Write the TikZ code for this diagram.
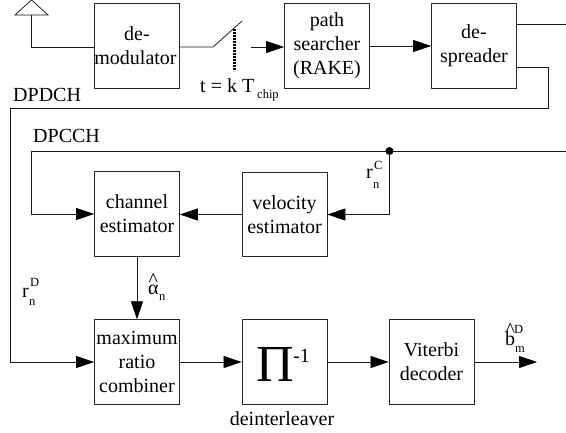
\documentclass[tikz,border=0pt]{standalone}
\usepackage{fontspec}
\setmainfont{Liberation Serif}
\usetikzlibrary{arrows.meta}
\newcommand\hatted[2]{\setbox0\hbox{#2}\rlap{\hbox to\wd0{\hss\raisebox{#1}{\symbol{94}}\hss}}\box0}
\tikzset{
  x=1pt,y=-1pt,
  block/.style={draw=black!85,line width=0.8pt,minimum width=85pt,minimum height=84.5pt,inner sep=0pt,align=center,font=\fontsize{20}{24}\selectfont,execute at begin node={\rule{0pt}{18pt}}},
  wire/.style={draw=black!90,line width=0.75pt},
  flow/.style={wire,-{Triangle[length=18pt,width=12pt,color=black]}},
  lab/.style={inner sep=0pt,anchor=base west,font=\fontsize{20}{24}\selectfont},
  sm/.style={inner sep=0pt,anchor=base west,font=\fontsize{12.5}{12.5}\selectfont},
}
\begin{document}
\begin{tikzpicture}
\useasboundingbox (0,0) rectangle (566,432);
\clip (0,0) rectangle (566,432);
\fill[white] (0,0) rectangle (566,432);
\node[block] (demod) at (137,46) {de-\\modulator\kern3pt};
\node[block] (search) at (327,46) {path\\searcher\\(RAKE)};
\node[block] (spread) at (474,46) {de-\\spreader};
\node[block] (chan) at (137,214) {channel\\estimator};
\node[block] (vel) at (284.5,214.5) {velocity\\estimator};
\node[block] (mrc) at (137,362) {maximum\\ratio\\combiner};
\node[block] (pi) at (284.5,362) {};
\node[block] (vit) at (431.5,362) {Viterbi\\decoder};
% antenna
\coordinate (antL) at (15,15);
\coordinate (antR) at (48,15);
\coordinate (antT) at (31.5,0);
\coordinate (antB) at (31.5,15);
\coordinate (antC) at (31.5,47);
\draw[wire] (antL) -- (antR) -- (antT) -- cycle;
\draw[wire] (antB) -- (antC) -- (demod.west |- antC);
% switch
\coordinate (swA) at (213,47);
\coordinate (swB) at (242,21);
\coordinate (swO) at (251,47);
\coordinate (dotT) at (234.5,29);
\coordinate (dotB) at (234.5,71);
\draw[wire] (demod.east |- swA) -- (swA) -- (swB);
\draw[line width=2.6pt,dash pattern=on 2pt off 1pt] (dotT) -- (dotB);
\draw[flow] (swO) -- (search.west |- swO);
\draw[flow] (search.east) -- (spread.west);
% despreader outputs
\coordinate (dpT) at (566,24);
\draw[wire] (spread.east |- dpT) -- (dpT);
\coordinate (d1) at (548,67);
\coordinate (d2) at (548,108.5);
\coordinate (d3) at (10,108.5);
\draw[flow] (spread.east |- d1) -- (d1) -- (d2) -- (d3) -- (d3 |- mrc.west) -- (mrc.west);
% DPCCH
\coordinate (c0) at (31,151);
\coordinate (c1) at (566,151);
\coordinate (junc) at (389.5,151);
\draw[flow] (c1) -- (c0) -- (c0 |- chan.west) -- (chan.west);
\draw[flow] (junc) -- (junc |- vel.east) -- (vel.east);
\fill (junc) circle (4pt);
\draw[flow] (vel.west) -- (chan.east |- vel.west);
\draw[flow] (chan.south) -- (mrc.north);
\draw[flow] (mrc.east) -- (pi.west);
\draw[flow] (pi.east) -- (vit.west);
\coordinate (out) at (537,362);
\draw[flow] (vit.east) -- (out);
% labels
\node[lab] (lblDPD) at (13,101) {DPDCH};
\node[lab] (lblDPC) at (33,142) {DPCCH};
\node[lab] (lblT) at (200,92.5) {t = k T};
\node[sm] (lblchip) at (257,98) {chip};
\node[lab] (lblrc) at (366,178) {r};
\node[sm] (lblrcS) at (374,169) {C};
\node[sm] (lblrcN) at (373,188) {n};
\node[lab] (lblrd) at (22,297) {r};
\node[sm] (lblrdS) at (30,286) {D};
\node[sm] (lblrdN) at (29,305) {n};
\node[lab] (lblal) at (148,294) {\hatted{8pt}{α}};
\node[sm] (lblalN) at (159,300) {n};
\node[lab] (lblb) at (505,345) {\hatted{9pt}{b}};
\node[sm] (lblbS) at (514,333) {D};
\node[sm] (lblbN) at (515,352) {m};
\node[inner sep=0pt,anchor=base,font=\fontsize{20}{24}\selectfont] (lbldi) at (282,425) {deinterleaver};
\node[inner sep=0pt,anchor=base west,font=\fontsize{52}{52}\selectfont] (lblpi) at (256,381) {Π};
\node[inner sep=0pt,anchor=base west,font=\fontsize{20}{24}\selectfont] (lblm1) at (293,362) {-1};
\end{tikzpicture}
\end{document}
